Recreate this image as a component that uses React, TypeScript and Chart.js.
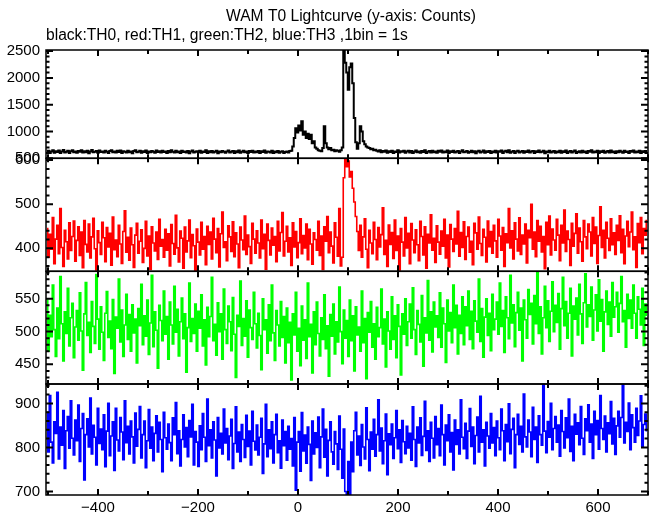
import React, { useEffect, useRef } from "react";
import { Chart, registerables } from "chart.js";

Chart.register(...registerables);

const TITLE = "WAM T0 Lightcurve (y-axis: Counts)";
const SUBTITLE = "black:TH0, red:TH1, green:TH2, blue:TH3 ,1bin = 1s";

// time bins (seconds from T0), read at 3 s resolution
const BIN_START = -502;
const BIN_WIDTH = 3;

const TH0 = [
  612, 640, 598, 627, 651, 605, 633, 619, 644, 601, 628, 655, 610, 623, 639, 597, 631, 648, 615, 626,
  603, 637, 621, 649, 608, 630, 614, 642, 595, 627, 653, 611, 624, 636, 602, 645, 618, 629, 607, 641,
  620, 598, 634, 652, 613, 625, 606, 639, 617, 646, 600, 631, 622, 609, 643, 615, 628, 596, 637, 650,
  611, 624, 640, 603, 632, 618, 647, 599, 626, 613, 638, 621, 604, 644, 616, 630, 608, 641, 619, 627,
  597, 635, 612, 648, 623, 606, 639, 614, 629, 601, 643, 618, 625, 610, 637, 594, 628, 645, 607, 622,
  633, 611, 640, 604, 626, 617, 649, 600, 631, 615, 638, 608, 624, 642, 596, 627, 613, 636, 620, 603,
  629, 645, 609, 621, 637, 598, 632, 614, 647, 605, 623, 640, 611, 628, 601, 634, 619, 643, 607, 625,
  612, 638, 597, 630, 616, 644, 603, 627, 621, 609, 641, 599, 626, 614, 635, 605, 620, 632, 601, 618,
  627, 609, 636, 640, 720, 880, 1060, 980, 1110, 1020, 1190, 940, 1000, 880, 960, 860, 940, 780, 820, 700,
  680, 650, 640, 630, 690, 1100, 780, 700, 670, 690, 650, 660, 630, 650, 640, 620, 650, 700, 2560, 2280,
  2100, 1780, 2200, 2270, 1900, 1250, 800, 680, 780, 1100, 1000, 820, 760, 720, 700, 690, 670, 680, 650, 660,
  640, 628, 652, 611, 637, 620, 645, 604, 633, 616, 641, 599, 627, 618, 648, 607, 630, 622, 639, 602,
  625, 643, 610, 634, 598, 621, 646, 613, 629, 605, 638, 617, 650, 601, 624, 636, 609, 642, 615, 628,
  603, 639, 620, 647, 608, 626, 612, 644, 597, 631, 619, 640, 606, 623, 635, 600, 629, 648, 611, 624,
  637, 602, 618, 643, 614, 630, 596, 627, 641, 609, 622, 646, 604, 633, 617, 638, 599, 625, 612, 640,
  608, 631, 622, 645, 601, 626, 639, 613, 649, 605, 620, 634, 598, 628, 642, 610, 623, 637, 603, 630,
  616, 644, 607, 625, 638, 600, 632, 619, 647, 611, 621, 640, 596, 629, 614, 643, 606, 624, 635, 602,
  627, 615, 641, 604, 630, 618, 646, 599, 623, 637, 610, 628, 644, 601, 619, 633, 608, 639, 612, 625,
  600, 636, 621, 648, 606, 627, 613, 642, 598, 631, 617, 640, 603, 624, 638, 609, 645, 615, 629, 601,
  632, 611, 639, 620, 605, 643, 616, 628, 597, 634, 622, 646, 608, 626, 612, 641, 600, 630, 618, 637,
  614,
];

const TH1 = [
  445, 380, 432, 398, 470, 365, 421, 452, 388, 490, 402, 359, 441, 415, 376, 458, 395, 427, 462, 371,
  418, 449, 384, 437, 356, 463, 409, 392, 455, 378, 426, 468, 399, 351, 440, 413, 386, 459, 424, 370,
  447, 403, 434, 362, 471, 397, 419, 381, 452, 410, 366, 438, 485, 391, 425, 373, 446, 408, 357, 430,
  457, 389, 416, 442, 368, 400, 461, 383, 428, 352, 449, 412, 394, 437, 375, 466, 405, 420, 380, 443,
  396, 433, 360, 454, 411, 387, 475, 401, 369, 439, 423, 355, 448, 392, 417, 464, 379, 431, 406, 350,
  444, 414, 385, 459, 398, 427, 363, 450, 409, 437, 376, 468, 421, 390, 445, 358, 433, 482, 402, 415,
  372, 451, 426, 393, 460, 381, 435, 410, 356, 448, 419, 397, 473, 386, 430, 404, 366, 457, 421, 389,
  440, 412, 378, 464, 399, 432, 353, 455, 418, 385, 446, 407, 427, 370, 461, 394, 436, 481, 383, 416,
  450, 392, 424, 361, 458, 403, 438, 379, 413, 467, 388, 429, 401, 455, 374, 443, 410, 364, 435, 420,
  396, 461, 384, 428, 352, 449, 416, 472, 390, 437, 405, 367, 458, 425, 382, 490, 360, 380, 560, 604,
  585, 598, 562, 574, 536, 505, 472, 438, 395, 452, 380, 426, 467, 398, 356, 441, 412, 388, 459, 420,
  374, 447, 403, 431, 492, 386, 418, 359, 453, 409, 436, 377, 464, 395, 428, 351, 445, 414, 383, 470,
  401, 434, 365, 456, 419, 390, 442, 408, 372, 461, 427, 385, 449, 355, 432, 412, 476, 396, 423, 368,
  451, 414, 387, 439, 405, 466, 378, 430, 358, 454, 421, 393, 445, 410, 484, 382, 436, 402, 460, 375,
  427, 448, 391, 416, 363, 457, 435, 398, 471, 411, 384, 443, 425, 369, 462, 404, 438, 389, 452, 417,
  380, 466, 428, 396, 447, 359, 433, 413, 490, 401, 440, 376, 458, 421, 394, 469, 386, 430, 410, 455,
  367, 441, 424, 500, 398, 437, 381, 463, 416, 450, 392, 427, 354, 459, 408, 473, 385, 444, 419, 396,
  466, 430, 372, 452, 412, 487, 393, 439, 420, 361, 457, 405, 434, 478, 389, 446, 415, 371, 463, 426,
  399, 455, 437, 383, 470, 411, 448, 366, 429, 494, 402, 441, 378, 459, 423, 395, 467, 408, 435, 386,
  452, 418, 474, 390, 443, 365, 428, 461, 404, 437, 482, 397, 426, 357, 456, 413, 470, 388, 445, 430,
  463,
];

const TH2 = [
  548, 470, 525, 492, 571, 503, 462, 536, 489, 584, 512, 455, 530, 497, 566, 478, 521, 543, 460, 507,
  532, 487, 559, 501, 441, 527, 575, 494, 514, 468, 546, 508, 482, 587, 519, 473, 538, 499, 456, 528,
  561, 491, 516, 474, 549, 436, 522, 505, 580, 484, 533, 462, 510, 557, 488, 526, 470, 541, 498, 519,
  452, 535, 509, 572, 480, 524, 493, 548, 465, 513, 586, 477, 530, 502, 444, 540, 517, 486, 562, 496,
  523, 458, 545, 510, 481, 569, 499, 534, 463, 515, 551, 489, 527, 438, 506, 574, 485, 520, 497, 542,
  470, 531, 505, 556, 478, 518, 449, 537, 492, 523, 583, 486, 511, 464, 544, 500, 527, 458, 565, 503,
  482, 539, 515, 471, 552, 496, 430, 525, 508, 577, 479, 520, 493, 547, 461, 533, 506, 488, 560, 512,
  475, 528, 494, 442, 550, 503, 518, 467, 541, 486, 571, 498, 456, 532, 510, 478, 546, 491, 523, 452,
  536, 483, 514, 426, 527, 495, 560, 470, 505, 448, 539, 487, 518, 459, 574, 492, 511, 437, 530, 480,
  545, 497, 463, 521, 488, 556, 474, 509, 432, 526, 493, 542, 466, 515, 484, 568, 500, 451, 533, 490,
  517, 462, 548, 486, 524, 440, 538, 495, 507, 470, 562, 483, 520, 428, 529, 499, 546, 476, 512, 458,
  537, 492, 506, 565, 481, 519, 446, 530, 501, 473, 553, 488, 524, 460, 541, 508, 434, 527, 496, 550,
  479, 515, 542, 490, 567, 503, 465, 532, 511, 484, 555, 447, 521, 498, 578, 487, 530, 469, 545, 507,
  524, 491, 559, 476, 536, 512, 453, 548, 501, 529, 483, 571, 506, 540, 466, 525, 497, 553, 480, 538,
  509, 562, 488, 531, 474, 547, 516, 499, 580, 485, 535, 461, 522, 550, 494, 528, 471, 557, 503, 519,
  545, 496, 574, 508, 532, 468, 553, 521, 489, 586, 513, 541, 477, 529, 560, 502, 536, 455, 548, 518,
  490, 564, 526, 543, 481, 555, 512, 590, 497, 538, 466, 521, 569, 506, 547, 485, 531, 576, 500, 540,
  514, 558, 473, 535, 583, 509, 546, 490, 528, 566, 463, 539, 519, 551, 495, 572, 527, 482, 544, 588,
  507, 541, 523, 568, 487, 533, 556, 501, 579, 516, 549, 470, 530, 562, 511, 545, 493, 575, 522, 538,
  560, 499, 543, 584, 515, 532, 476, 557, 520, 548, 505, 571, 528, 490, 553, 534, 510, 566, 479, 542,
  525,
];

const TH3 = [
  880, 790, 918, 812, 765, 858, 832, 925, 774, 846, 805, 884, 752, 838, 870, 798, 906, 821, 783, 862,
  815, 896, 768, 843, 877, 726, 829, 865, 801, 912, 785, 850, 823, 760, 889, 809, 842, 795, 874, 756,
  837, 900, 781, 826, 858, 748, 889, 817, 792, 868, 835, 772, 906, 811, 848, 785, 860, 824, 765, 878,
  803, 841, 893, 776, 829, 860, 754, 815, 886, 798, 846, 770, 832, 872, 790, 857, 818, 745, 880, 822,
  796, 853, 811, 770, 867, 829, 902, 786, 838, 758, 818, 874, 801, 845, 779, 861, 824, 898, 760, 836,
  812, 757, 849, 795, 877, 823, 768, 910, 804, 840, 776, 858, 817, 735, 868, 799, 832, 785, 887, 810,
  843, 772, 826, 864, 752, 809, 892, 790, 835, 768, 852, 818, 777, 873, 802, 837, 760, 882, 814, 794,
  851, 783, 823, 866, 741, 808, 898, 779, 840, 797, 858, 765, 829, 875, 788, 815, 753, 862, 804, 836,
  771, 848, 796, 820, 758, 868, 703, 812, 836, 746, 879, 792, 828, 764, 846, 807, 725, 860, 785, 833,
  800, 869, 754, 824, 887, 778, 841, 735, 816, 858, 790, 762, 836, 808, 750, 871, 796, 730, 842, 700,
  692, 768, 692, 812, 745, 838, 880, 783, 826, 759, 852, 801, 774, 890, 818, 747, 835, 796, 864, 780,
  829, 908, 792, 844, 763, 815, 876, 738, 831, 806, 853, 775, 822, 884, 797, 840, 766, 861, 813, 786,
  848, 799, 832, 771, 892, 818, 757, 846, 810, 867, 782, 825, 905, 793, 838, 768, 857, 821, 776, 870,
  806, 843, 781, 896, 829, 760, 851, 815, 874, 790, 834, 749, 862, 807, 840, 785, 908, 823, 797, 855,
  775, 837, 888, 802, 846, 763, 827, 869, 790, 916, 812, 840, 758, 857, 826, 798, 877, 810, 845, 781,
  860, 822, 795, 887, 838, 770, 852, 813, 899, 786, 841, 866, 754, 829, 875, 807, 848, 790, 921, 824,
  801, 862, 835, 779, 891, 818, 846, 766, 872, 829, 805, 944, 837, 788, 859, 823, 900, 795, 843, 870,
  812, 851, 780, 884, 836, 799, 867, 822, 910, 791, 848, 770, 875, 830, 856, 806, 893, 821, 784, 865,
  838, 897, 812, 853, 775, 882, 829, 861, 796, 918, 843, 818, 871, 790, 856, 831, 904, 808, 866, 784,
  849, 882, 823, 868, 944, 810, 857, 836, 901, 795, 874, 845, 812, 889, 827, 860, 917, 803, 852, 876,
  838,
];

const TIME = TH0.map((_, i) => BIN_START + i * BIN_WIDTH);

// axis ranges and tick labels
const X_MIN = -504;
const X_MAX = 700;
const X_TICKS = [-400, -200, 0, 200, 400, 600];

const Y0_RANGE = [500, 2520];
const Y1_RANGE = [348, 604];
const Y2_RANGE = [420, 592];
const Y3_RANGE = [692, 944];

const Y0_TICKS = [500, 1000, 1500, 2000, 2500];
const Y1_TICKS = [400, 500, 600];
const Y2_TICKS = [450, 500, 550];
const Y3_TICKS = [700, 800, 900];

const PANELS = [
  { id: "y0", label: "TH0", data: TH0, range: Y0_RANGE, ticks: Y0_TICKS, minor: 100, color: "#000000", lw: 2, weight: 108.3 },
  { id: "y1", label: "TH1", data: TH1, range: Y1_RANGE, ticks: Y1_TICKS, minor: 20, color: "#ff0000", lw: 1.6, weight: 113 },
  { id: "y2", label: "TH2", data: TH2, range: Y2_RANGE, ticks: Y2_TICKS, minor: 10, color: "#00ff00", lw: 1.6, weight: 112.7 },
  { id: "y3", label: "TH3", data: TH3, range: Y3_RANGE, ticks: Y3_TICKS, minor: 20, color: "#0000ff", lw: 1.6, weight: 111 },
];

const FONT = "'Liberation Sans', Arial, Helvetica, sans-serif";

const framePlugin = {
  id: "frames",
  afterDatasetsDraw(chart: any) {
    const ctx = chart.ctx;
    const xs = chart.scales.x;
    const L = chart.chartArea.left;
    const R = chart.chartArea.right;
    ctx.save();
    ctx.strokeStyle = "#000";
    PANELS.forEach((p) => {
      const ys = chart.scales[p.id];
      const T = ys.top;
      const B = ys.bottom;
      ctx.lineWidth = 1.5;
      ctx.strokeRect(L, T, R - L, B - T);
      ctx.lineWidth = 2;
      ctx.beginPath();
      const start = Math.ceil(ys.min / p.minor) * p.minor;
      for (let v = start; v <= ys.max; v += p.minor) {
        const y = ys.getPixelForValue(v);
        const len = p.ticks.includes(v) ? 7 : 3.5;
        ctx.moveTo(L, y);
        ctx.lineTo(L + len, y);
        ctx.moveTo(R, y);
        ctx.lineTo(R - len, y);
      }
      const xs0 = Math.ceil(xs.min / 100) * 100;
      for (let v = xs0; v <= xs.max; v += 100) {
        const x = xs.getPixelForValue(v);
        const len = v % 200 === 0 ? 6 : 4;
        ctx.moveTo(x, T);
        ctx.lineTo(x, T + len);
        ctx.moveTo(x, B);
        ctx.lineTo(x, B - len);
      }
      ctx.stroke();
    });
    ctx.fillStyle = "#000";
    ctx.font = "15.6px " + FONT;
    ctx.textBaseline = "alphabetic";
    ctx.textAlign = "center";
    ctx.fillText(TITLE, 351, 21);
    ctx.textAlign = "left";
    ctx.fillText(SUBTITLE, L, 40);
    ctx.restore();
  },
};

export default function App() {
  const ref = useRef<HTMLCanvasElement | null>(null);

  useEffect(() => {
    if (!ref.current) return;
    const scales: any = {
      x: {
        type: "linear",
        position: "bottom",
        min: X_MIN,
        max: X_MAX,
        afterBuildTicks: (s: any) => {
          s.ticks = X_TICKS.map((v) => ({ value: v }));
        },
        afterFit: (s: any) => {
          s.height = 20;
        },
        grid: { display: false, drawTicks: false },
        border: { display: false },
        ticks: {
          autoSkip: false,
          maxRotation: 0,
          padding: 4,
          color: "#000",
          font: { family: FONT, size: 15 },
          callback: (v: any) => (v < 0 ? "\u2212" + Math.abs(v) : String(v)),
        },
      },
    };
    [...PANELS].reverse().forEach((p) => {
      scales[p.id] = {
        type: "linear",
        position: "left",
        stack: "panels",
        stackWeight: p.weight,
        offset: false,
        min: p.range[0],
        max: p.range[1],
        afterBuildTicks: (s: any) => {
          s.ticks = p.ticks.map((v) => ({ value: v }));
        },
        afterFit: (s: any) => {
          s.width = 46;
        },
        grid: { display: false, drawTicks: false },
        border: { display: false },
        ticks: {
          autoSkip: false,
          padding: 6,
          color: "#000",
          font: { family: FONT, size: 15 },
          callback: (v: any) => String(v),
        },
      };
    });

    const chart = new Chart(ref.current, {
      type: "line",
      data: {
        datasets: PANELS.map((p) => ({
          label: p.label,
          data: TIME.map((t, i) => ({ x: t, y: p.data[i] })),
          xAxisID: "x",
          yAxisID: p.id,
          borderColor: p.color,
          backgroundColor: p.color,
          borderWidth: p.lw,
          pointRadius: 0,
          stepped: "middle",
          fill: false,
          clip: 0,
        })),
      },
      options: {
        animation: false,
        responsive: false,
        devicePixelRatio: 1,
        layout: { padding: { top: 50, right: 4, bottom: 0, left: 0 } },
        plugins: {
          legend: { display: false },
          tooltip: { enabled: false },
          title: { display: false },
        },
        events: [],
        scales,
      },
      plugins: [framePlugin],
    });
    return () => chart.destroy();
  }, []);

  return (
    <div style={{ position: "fixed", left: 0, top: 0, width: 652, height: 515, background: "#fff" }}>
      <canvas ref={ref} width={652} height={515} style={{ width: 652, height: 515 }} />
    </div>
  );
}
